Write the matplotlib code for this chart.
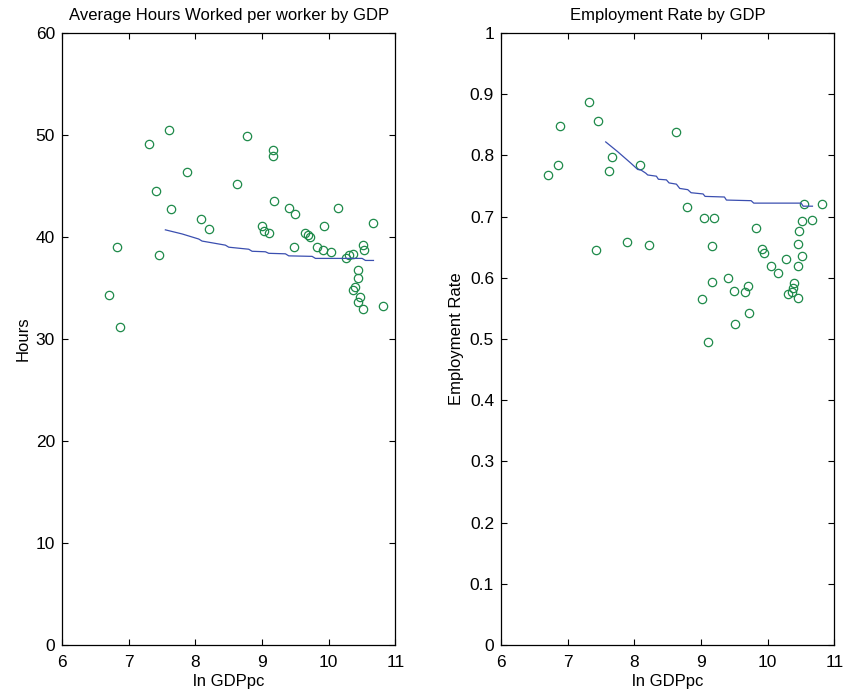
import numpy as np
from matplotlib import pyplot as plt

plt.rcParams['font.family'] = ['Liberation Sans', 'DejaVu Sans']

# log GDP per capita and average hours per worker (left panel)
gdp_h = [7.61, 7.30, 8.77, 7.88, 8.62, 7.41, 7.64, 8.08, 8.20, 6.83, 7.45, 6.70, 6.87,
         9.16, 9.16, 9.18, 9.40, 9.50, 10.14, 9.00, 9.03, 9.10, 9.93, 10.67, 9.65, 9.69,
         9.72, 9.48, 9.82, 9.91, 10.04, 10.26, 10.30, 10.37, 10.51, 10.53, 10.44, 10.44,
         10.39, 10.36, 10.47, 10.44, 10.52, 10.82]
hours = [50.5, 49.1, 49.9, 46.4, 45.2, 44.5, 42.7, 41.8, 40.8, 39.0, 38.2, 34.3, 31.2,
         48.5, 47.9, 43.5, 42.8, 42.3, 42.8, 41.1, 40.6, 40.4, 41.1, 41.4, 40.4, 40.2,
         40.0, 39.0, 39.0, 38.7, 38.5, 37.9, 38.2, 38.3, 39.2, 38.7, 36.8, 36.0,
         35.1, 34.8, 34.1, 33.6, 32.9, 33.2]

# smoothed fit, left panel
fit_x_h = [7.55, 7.80, 8.05, 8.10, 8.45, 8.50, 8.80, 8.85, 9.05, 9.10, 9.35, 9.40,
           9.75, 9.80, 10.50, 10.55, 10.67]
fit_h = [40.7, 40.3, 39.8, 39.6, 39.2, 39.0, 38.8, 38.6, 38.55, 38.4, 38.35, 38.15,
         38.1, 37.9, 37.9, 37.7, 37.7]

# log GDP per capita and employment rate (right panel)
gdp_e = [7.32, 7.46, 6.88, 8.63, 7.66, 6.85, 8.09, 7.62, 6.71, 7.89, 8.22, 7.42,
         8.79, 9.04, 9.19, 9.83, 9.17, 9.92, 9.94, 10.54, 10.82, 10.67, 10.52, 10.47,
         10.45, 10.51, 10.27, 10.45, 10.05, 10.15, 9.41, 9.17, 9.70, 9.49, 9.66, 10.40,
         10.38, 10.37, 10.31, 10.45, 9.02, 9.72, 9.51, 9.11]
emp = [0.887, 0.856, 0.848, 0.838, 0.797, 0.785, 0.784, 0.774, 0.768, 0.658, 0.653, 0.645,
       0.715, 0.698, 0.698, 0.682, 0.652, 0.647, 0.641, 0.720, 0.720, 0.695, 0.692, 0.676,
       0.655, 0.636, 0.630, 0.620, 0.620, 0.608, 0.600, 0.593, 0.587, 0.578, 0.576, 0.591,
       0.583, 0.577, 0.573, 0.567, 0.565, 0.542, 0.524, 0.495]

# smoothed fit, right panel
fit_x_e = [7.57, 7.75, 7.95, 8.05, 8.10, 8.17, 8.20, 8.33, 8.36, 8.48, 8.52, 8.63, 8.68,
           8.80, 8.85, 9.03, 9.06, 9.35, 9.38, 9.75, 9.79, 10.50, 10.53, 10.67]
fit_e = [0.822, 0.806, 0.787, 0.777, 0.776, 0.771, 0.768, 0.766, 0.761, 0.760, 0.755, 0.753,
         0.746, 0.744, 0.739, 0.737, 0.733, 0.732, 0.727, 0.726, 0.722, 0.722, 0.717, 0.717]

pt_col = '#1e8a4a'
ln_col = '#3b4fb0'

fig = plt.figure(figsize=(8.47, 6.96), dpi=100)
ax1 = fig.add_axes([0.0732, 0.0733, 0.3937, 0.8793])
ax2 = fig.add_axes([0.5915, 0.0733, 0.3937, 0.8793])

for ax in (ax1, ax2):
    ax.tick_params(direction='in', top=True, right=True, length=4, width=0.8,
                   labelsize=12.5, pad=5)
    ax.tick_params(axis='x', pad=7)
    for s in ax.spines.values():
        s.set_linewidth(0.9)
    ax.set_xlim(6, 11)
    ax.set_xticks([6, 7, 8, 9, 10, 11])
    ax.set_xlabel('ln GDPpc', fontsize=12, labelpad=3)

ax1.plot(gdp_h, hours, 'o', mfc='none', mec=pt_col, ms=6, mew=0.9)
ax1.plot(fit_x_h, fit_h, '-', color=ln_col, lw=0.9)
ax1.set_ylim(0, 60)
ax1.set_yticks(np.arange(0, 61, 10))
ax1.set_ylabel('Hours', fontsize=12, labelpad=4)
ax1.set_title('Average Hours Worked per worker by GDP', fontsize=12, pad=9)

ax2.plot(gdp_e, emp, 'o', mfc='none', mec=pt_col, ms=6, mew=0.9)
ax2.plot(fit_x_e, fit_e, '-', color=ln_col, lw=0.9)
ax2.set_ylim(0, 1)
ax2.set_yticks(np.arange(0, 1.01, 0.1))
ax2.set_yticklabels(['0', '0.1', '0.2', '0.3', '0.4', '0.5', '0.6', '0.7', '0.8', '0.9', '1'])
ax2.set_ylabel('Employment Rate', fontsize=12, labelpad=4)
ax2.set_title('Employment Rate by GDP', fontsize=12, pad=9)

fig.savefig('out.png', dpi=100)
